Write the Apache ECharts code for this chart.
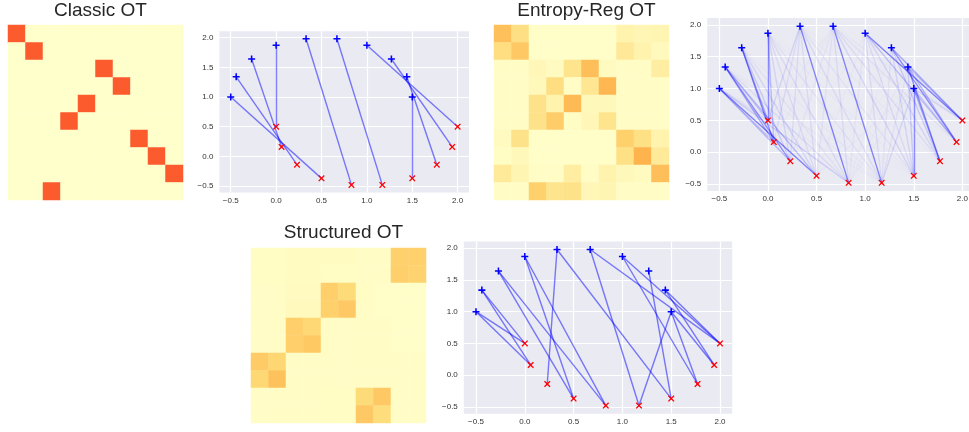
<!DOCTYPE html>
<html><head><meta charset="utf-8">
<script src="https://cdn.jsdelivr.net/npm/echarts@6/dist/echarts.min.js"></script>
<style>html,body{margin:0;padding:0;background:#fff}#c{width:969px;height:432px}</style>
</head><body><div id="c"></div><script>
// ---------- data ----------
const titles = ['Classic OT', 'Entropy-Reg OT', 'Structured OT'];
const idx = ['0','1','2','3','4','5','6','7','8','9'];
const tickValues = [-0.5, 0.0, 0.5, 1.0, 1.5, 2.0];

// source samples (blue +) and target samples (red x)
const srcX = [-0.50, -0.44, -0.27, 0.00, 0.33, 0.67, 1.00, 1.27, 1.44, 1.50];
const srcY = [ 1.00,  1.34,  1.64, 1.87, 1.98, 1.98, 1.87, 1.64, 1.34, 1.00];
const tgtX = [ 0.00,  0.06,  0.23, 0.50, 0.83, 1.17, 1.50, 1.77, 1.94, 2.00];
const tgtY = [ 0.50,  0.16, -0.14, -0.37, -0.48, -0.48, -0.37, -0.14, 0.16, 0.50];

// heatmap 1: classic OT plan (row -> column carrying mass 0.1)
const classicCols = [0, 1, 5, 6, 4, 3, 7, 8, 9, 2];
const classicMass = 0.1;

// heatmap 2: entropy regularised plan
const entropyPlan = [
  [0.055,0.035,0.002,0.002,0.002,0.002,0.002,0.014,0.011,0.012],
  [0.036,0.050,0.002,0.002,0.002,0.002,0.002,0.025,0.014,0.007],
  [0.003,0.003,0.010,0.006,0.030,0.056,0.006,0.003,0.003,0.020],
  [0.003,0.003,0.008,0.036,0.003,0.028,0.060,0.003,0.003,0.003],
  [0.003,0.003,0.032,0.014,0.058,0.008,0.008,0.003,0.003,0.003],
  [0.003,0.003,0.032,0.048,0.004,0.010,0.030,0.003,0.003,0.003],
  [0.006,0.032,0.002,0.002,0.002,0.002,0.002,0.046,0.034,0.014],
  [0.004,0.008,0.002,0.002,0.002,0.002,0.002,0.034,0.062,0.024],
  [0.024,0.012,0.003,0.003,0.020,0.003,0.014,0.008,0.006,0.056],
  [0.003,0.003,0.046,0.030,0.032,0.010,0.012,0.003,0.003,0.003]
];

// heatmap 3: structured plan
const structuredPlan = [
  [0.004,0.004,0.005,0.005,0.005,0.005,0.003,0.003,0.046,0.046],
  [0.004,0.004,0.005,0.005,0.004,0.004,0.003,0.003,0.047,0.045],
  [0.003,0.003,0.006,0.006,0.047,0.040,0.004,0.002,0.002,0.002],
  [0.003,0.003,0.007,0.007,0.046,0.050,0.003,0.002,0.002,0.002],
  [0.003,0.003,0.047,0.042,0.003,0.003,0.003,0.003,0.002,0.002],
  [0.003,0.003,0.047,0.051,0.003,0.003,0.003,0.003,0.002,0.002],
  [0.049,0.043,0.003,0.003,0.003,0.003,0.003,0.003,0.003,0.003],
  [0.042,0.054,0.003,0.003,0.003,0.003,0.003,0.003,0.003,0.003],
  [0.003,0.003,0.003,0.003,0.004,0.004,0.040,0.050,0.003,0.003],
  [0.003,0.003,0.003,0.003,0.004,0.004,0.050,0.038,0.003,0.003]
];

// scatter 1: classic couplings [source, target]
const classicLinks = [[0,3],[1,2],[2,1],[3,0],[4,4],[5,5],[6,9],[7,8],[8,7],[9,6]];

// scatter 2: entropy couplings, line strength (source rows x target cols)
const entropyLinks = [
  [0.15,0.35,0.45,0.90,0.25,0.05,0.02,0.01,0.01,0.01],
  [0.35,0.60,0.80,0.45,0.15,0.05,0.02,0.01,0.01,0.01],
  [0.60,0.85,0.30,0.20,0.10,0.05,0.02,0.01,0.01,0.01],
  [0.90,0.40,0.20,0.15,0.15,0.10,0.04,0.02,0.01,0.01],
  [0.20,0.15,0.15,0.15,0.90,0.15,0.10,0.04,0.02,0.02],
  [0.04,0.04,0.08,0.10,0.15,0.90,0.20,0.15,0.10,0.05],
  [0.01,0.01,0.02,0.04,0.08,0.15,0.15,0.20,0.40,0.90],
  [0.01,0.01,0.01,0.02,0.04,0.10,0.20,0.30,0.80,0.60],
  [0.01,0.01,0.01,0.02,0.04,0.10,0.30,0.80,0.50,0.40],
  [0.01,0.01,0.02,0.04,0.05,0.20,0.90,0.60,0.30,0.20]
];

// scatter 3: structured couplings [source, target]
const structuredLinks = [[0,0],[0,1],[1,0],[1,1],[2,3],[2,4],[3,3],[3,4],[4,2],[4,6],
                         [5,5],[5,9],[6,9],[6,7],[7,6],[8,9],[8,8],[9,5],[9,7],[9,8]];

// ---------- build ----------
const FONT = '"Liberation Sans", Arial, sans-serif';
const ylorrd = ['#ffffcc','#ffeda0','#fed976','#feb24c','#fd8d3c','#fc4e2a','#e31a1c','#bd0026','#800026'];
const heatBoxes = [{left:8,top:25},{left:494,top:25},{left:251,top:248}];
const scatBoxes = [
  {left:219.4, top:31.2, width:249.6, height:161.3},
  {left:707.2, top:18,   width:267.3, height:173},
  {left:463.8, top:241.4,width:268.4, height:172.3}
];
const titleY = [-4, -4, 218.5];

const classicPlan = idx.map((_, r) => idx.map((_, c) => classicCols[r] === c ? classicMass : 0));
const plans = [classicPlan, entropyPlan, structuredPlan];

const grids = [], xAxes = [], yAxes = [], series = [], title = [];
const fmt = v => (v < 0 ? '\u2212' : '') + Math.abs(v).toFixed(1);

heatBoxes.forEach((b, i) => {
  grids.push({left:b.left, top:b.top, width:175, height:175, outerBoundsMode:'none', containLabel:false});
  xAxes.push({type:'category', gridIndex:i, data:idx, show:false});
  yAxes.push({type:'category', gridIndex:i, data:idx, inverse:true, show:false});
  const d = [];
  plans[i].forEach((row, r) => row.forEach((v, c) => d.push([c, r, v])));
  series.push({type:'heatmap', xAxisIndex:i, yAxisIndex:i, data:d, silent:true,
    itemStyle:{borderWidth:0}, emphasis:{disabled:true}});
  title.push({text:titles[i], left:b.left + 87.5, top:titleY[i], textAlign:'center',
    textStyle:{fontFamily:FONT, fontSize:19, fontWeight:'normal', color:'#262626'}});
});

scatBoxes.forEach((b, k) => {
  const gi = 3 + k;
  grids.push(Object.assign({show:true, backgroundColor:'#eaeaf2', borderWidth:0, outerBoundsMode:'none', containLabel:false}, b));
  xAxes.push({type:'value', gridIndex:gi, min:-0.625, max:2.125,
    axisLine:{show:false}, axisTick:{show:false, customValues:tickValues},
    axisLabel:{customValues:tickValues, formatter:fmt, fontFamily:FONT, fontSize:8, color:'#333', margin:4},
    splitLine:{show:true, lineStyle:{color:'#ffffff', width:1.2}}});
  yAxes.push({type:'value', gridIndex:gi, min:-0.608, max:2.108,
    axisLine:{show:false}, axisTick:{show:false, customValues:tickValues},
    axisLabel:{customValues:tickValues, formatter:fmt, fontFamily:FONT, fontSize:8, color:'#333', margin:6},
    splitLine:{show:true, lineStyle:{color:'#ffffff', width:1.2}}});
});

function linkData(pairs) {
  return pairs.map(([s, t]) => ({coords:[[srcX[s], srcY[s]], [tgtX[t], tgtY[t]]]}));
}
const entropyData = [];
entropyLinks.forEach((row, s) => row.forEach((w, t) => {
  entropyData.push({coords:[[srcX[s], srcY[s]], [tgtX[t], tgtY[t]]], lineStyle:{opacity:0.5 * w}});
}));
const linkSets = [linkData(classicLinks), entropyData, linkData(structuredLinks)];

const PLUS = 'path://M3.9,0H6.1V3.9H10V6.1H6.1V10H3.9V6.1H0V3.9H3.9Z';
const CROSS = 'path://M0,1.4L1.4,0L5,3.6L8.6,0L10,1.4L6.4,5L10,8.6L8.6,10L5,6.4L1.4,10L0,8.6L3.6,5Z';

linkSets.forEach((data, k) => {
  const gi = 3 + k;
  series.push({type:'lines', coordinateSystem:'cartesian2d', xAxisIndex:gi, yAxisIndex:gi,
    data, silent:true, lineStyle:{color:'#0000ff', width:1.4, opacity:0.5}, z:2});
});
[0,1,2].forEach(k => {
  const gi = 3 + k;
  series.push({type:'scatter', xAxisIndex:gi, yAxisIndex:gi, symbol:PLUS, symbolSize:7,
    data: srcX.map((x, i) => [x, srcY[i]]), itemStyle:{color:'#0000ff', opacity:1}, silent:true, z:3});
  series.push({type:'scatter', xAxisIndex:gi, yAxisIndex:gi, symbol:CROSS, symbolSize:6.5,
    data: tgtX.map((x, i) => [x, tgtY[i]]), itemStyle:{color:'#ff0000', opacity:1}, silent:true, z:3});
});

const chart = echarts.init(document.getElementById('c'), null, {renderer:'canvas'});
chart.setOption({
  animation:false,
  backgroundColor:'#ffffff',
  title, grid:grids, xAxis:xAxes, yAxis:yAxes,
  visualMap:{type:'continuous', show:false, min:0, max:1/6, seriesIndex:[0,1,2], inRange:{color:ylorrd}},
  series
});
</script></body></html>
